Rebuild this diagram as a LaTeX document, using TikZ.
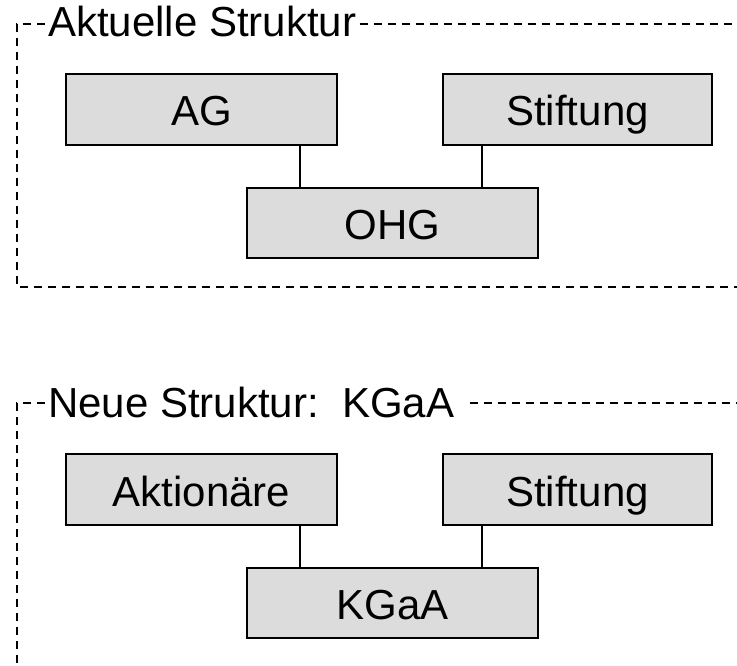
\documentclass[tikz,border=0pt]{standalone}
\usepackage{fontspec}
\setmainfont{Liberation Sans}
\begin{document}
\begin{tikzpicture}[x=1pt,y=-1pt,
  frame/.style={line width=1.5pt, dash pattern=on 8pt off 6pt},
  orgbox/.style={draw=black, line width=2pt, fill=boxgray, inner sep=0pt,
    text height=33pt, text depth=0pt, font=\fontsize{42pt}{50pt}\selectfont},
  title/.style={anchor=base west, inner xsep=3pt, inner ysep=0pt,
    font=\fontsize{42pt}{50pt}\selectfont},
  link/.style={line width=2pt}]
\definecolor{boxgray}{RGB}{220,220,220}
\useasboundingbox (0,0) rectangle (737,666);

% ---- top frame
\coordinate (t1) at (17,24);
\coordinate (t2) at (17,287);
\coordinate (t3) at (737,287);
\coordinate (t4) at (737,24);
\node[title] (tt) at (45,37) {Aktuelle Struktur};
\draw[frame] (tt.west |- t1) -- (t1) -- (t2) -- (t3);
\draw[frame] (tt.east |- t1) -- (t4);

\node[orgbox, minimum width=271pt, minimum height=71pt] (ag) at (201.5,109.5) {AG};
\node[orgbox, minimum width=269pt, minimum height=71pt] (st1) at (577.5,109.5) {Stiftung};
\node[orgbox, minimum width=291pt, minimum height=70pt] (ohg) at (392.5,223) {OHG};

\coordinate (xl) at (300,0);
\coordinate (xr) at (482,0);
\draw[link] (xl |- ag.south) -- (xl |- ohg.north);
\draw[link] (xr |- st1.south) -- (xr |- ohg.north);

% ---- bottom frame
\coordinate (b1) at (17,403);
\coordinate (b2) at (17,666);
\coordinate (b4) at (737,403);
\node[title] (bt) at (45,417) {Neue Struktur:\ \ KGaA\kern 12pt};
\draw[frame] (bt.west |- b1) -- (b1) -- (b2);
\draw[frame] (bt.east |- b1) -- (b4);

\node[orgbox, minimum width=271pt, minimum height=71pt] (akt) at (201.5,489.5) {Aktionäre};
\node[orgbox, minimum width=269pt, minimum height=71pt] (st2) at (577.5,489.5) {Stiftung};
\node[orgbox, minimum width=291pt, minimum height=70pt] (kgaa) at (392.5,603) {KGaA};

\draw[link] (xl |- akt.south) -- (xl |- kgaa.north);
\draw[link] (xr |- st2.south) -- (xr |- kgaa.north);
\end{tikzpicture}
\end{document}
